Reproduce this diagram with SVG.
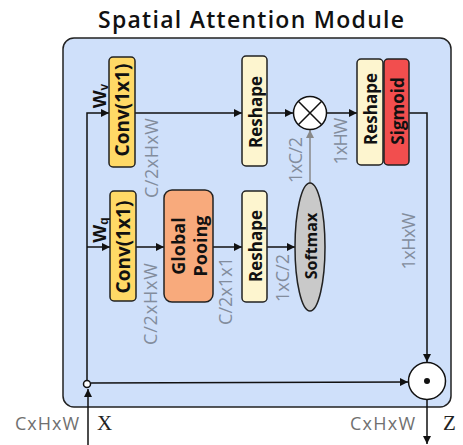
<svg xmlns="http://www.w3.org/2000/svg" width="463" height="445" viewBox="0 0 463 445">
<defs>
<style>
.box{stroke:#222;stroke-width:1.5}
.conv{fill:#ffd966}
.resh{fill:#fdf5cf}
.sig{fill:#f24e4e}
.gp{fill:#f8aa7c}
.sm{fill:#c9c9c9}
.t{font-family:"Open Sans","Liberation Sans",sans-serif;font-weight:bold;font-size:16px;fill:#111;text-anchor:middle;dominant-baseline:central}
.g{font-family:"Open Sans","Liberation Sans",sans-serif;font-size:18px;fill:#838d9d;text-anchor:middle;dominant-baseline:central}
.lab{font-family:"Open Sans","Liberation Sans",sans-serif;font-size:18px;fill:#707070}
.ser{font-family:"Liberation Serif",serif;font-size:21px;fill:#222}
.ln{fill:none;stroke:#111;stroke-width:1.5}
.gl{fill:none;stroke:#888;stroke-width:1.5}
</style>
<marker id="ah" viewBox="0 0 10 10" refX="10" refY="5" markerWidth="8" markerHeight="8" markerUnits="userSpaceOnUse" orient="auto"><path d="M0,0 L10,5 L0,10 z" fill="#111"/></marker>
<marker id="ahg" viewBox="0 0 10 10" refX="10" refY="5" markerWidth="8" markerHeight="8" markerUnits="userSpaceOnUse" orient="auto"><path d="M0,0 L10,5 L0,10 z" fill="#888"/></marker>
</defs>
<rect width="463" height="445" fill="#fff"/>
<text x="251" y="28" text-anchor="middle" font-family="'Open Sans','Liberation Sans',sans-serif" font-weight="600" font-size="23" fill="#111" textLength="306" lengthAdjust="spacing">Spatial Attention Module</text>
<g id="panel"><rect x="63" y="38" width="388" height="369" rx="11" fill="#cfe0fa" stroke="#222" stroke-width="1.5"/></g>

<g id="connectors">
<path class="ln" d="M88,445 L88,389" marker-end="url(#ah)"/>
<path class="ln" d="M87,380 L87,113 L109,113" marker-end="url(#ah)"/>
<path class="ln" d="M87,247 L110,247" marker-end="url(#ah)"/>
<path class="ln" d="M91,383 L408,382" marker-end="url(#ah)"/>
<path class="ln" d="M135,113 L242,113" marker-end="url(#ah)"/>
<path class="ln" d="M267,113 L293,113" marker-end="url(#ah)"/>
<path class="ln" d="M326,113 L357,113" marker-end="url(#ah)"/>
<path class="ln" d="M409,113 L427,113 L427,362" marker-end="url(#ah)"/>
<path class="ln" d="M427,400 L427,444" marker-end="url(#ah)"/>
<path class="ln" d="M136,247 L164,247" marker-end="url(#ah)"/>
<path class="ln" d="M213,247 L242,247" marker-end="url(#ah)"/>
<path class="ln" d="M267,247 L295,247" marker-end="url(#ah)"/>
<path class="gl" d="M310,183 L310,130" marker-end="url(#ahg)"/>
<circle cx="87" cy="384" r="3.5" fill="#fff" stroke="#111" stroke-width="1.5"/>
</g>

<g id="wv"><text class="t" transform="translate(99,96) rotate(-90)" style="font-family:'Liberation Sans',sans-serif;font-size:19px">W<tspan style="font-size:12px" dy="5">v</tspan></text></g>
<g id="wq"><text class="t" transform="translate(99,230) rotate(-90)" style="font-family:'Liberation Sans',sans-serif;font-size:19px">W<tspan style="font-size:12px" dy="5">q</tspan></text></g>

<g id="conv1"><rect class="box conv" x="109" y="57" width="26" height="110" rx="4"/><text class="t" transform="translate(122,110) rotate(-90)" style="font-size:19px">Conv(1x1)</text></g>
<g id="reshape1"><rect class="box resh" x="242" y="56" width="25" height="110" rx="4"/><text class="t" transform="translate(255,112) rotate(-90)" style="font-size:17px">Reshape</text></g>
<g id="mul"><circle cx="310" cy="113" r="16.5" fill="#fff" stroke="#111" stroke-width="1.5"/><path d="M298.3,101.3 L321.7,124.7 M321.7,101.3 L298.3,124.7" stroke="#111" stroke-width="1.5"/></g>
<g id="reshape2"><rect class="box resh" x="357" y="59" width="26" height="106" rx="4"/><text class="t" transform="translate(370,109) rotate(-90)" style="font-size:17px">Reshape</text></g>
<g id="sigmoid"><rect class="box sig" x="384" y="59" width="25" height="106" rx="4"/><text class="t" transform="translate(397,111) rotate(-90)" style="font-size:17px">Sigmoid</text></g>

<g id="conv2"><rect class="box conv" x="110" y="191" width="26" height="110" rx="4"/><text class="t" transform="translate(123,247) rotate(-90)" style="font-size:19px">Conv(1x1)</text></g>
<g id="gpool"><rect class="box gp" x="164" y="190" width="49" height="112" rx="8"/><text class="t" transform="translate(189,246) rotate(-90)" style="font-size:18px"><tspan x="0" y="-11">Global</tspan><tspan x="0" y="11">Pooing</tspan></text></g>
<g id="reshape3"><rect class="box resh" x="242" y="191" width="25" height="111" rx="4"/><text class="t" transform="translate(255,246) rotate(-90)" style="font-size:17px">Reshape</text></g>
<g id="softmax"><ellipse class="box sm" cx="310" cy="247" rx="15" ry="64"/><text class="t" transform="translate(311,246) rotate(-90)">Softmax</text></g>
<g id="odot"><circle cx="427" cy="381" r="18.5" fill="#fff" stroke="#111" stroke-width="1.5"/><circle cx="427" cy="381" r="3" fill="#111"/></g>

<g id="dims">
<text class="g" transform="translate(151,158) rotate(-90)" textLength="80">C/2xHxW</text>
<text class="g" transform="translate(150,304) rotate(-90)" textLength="82">C/2xHxW</text>
<text class="g" transform="translate(225,291) rotate(-90)" textLength="68">C/2x1x1</text>
<text class="g" transform="translate(282,278) rotate(-90)" textLength="48">1xC/2</text>
<text class="g" transform="translate(295,160) rotate(-90)" textLength="46">1xC/2</text>
<text class="g" transform="translate(340,141) rotate(-90)" textLength="47">1xHW</text>
<text class="g" transform="translate(408,241) rotate(-90)" textLength="57">1xHxW</text>
</g>

<g id="io">
<text class="lab" x="15" y="430" textLength="64">CxHxW</text>
<text class="ser" x="97" y="430">X</text>
<text class="lab" x="350" y="430" textLength="65">CxHxW</text>
<text class="ser" x="443" y="430">Z</text>
</g>
</svg>
